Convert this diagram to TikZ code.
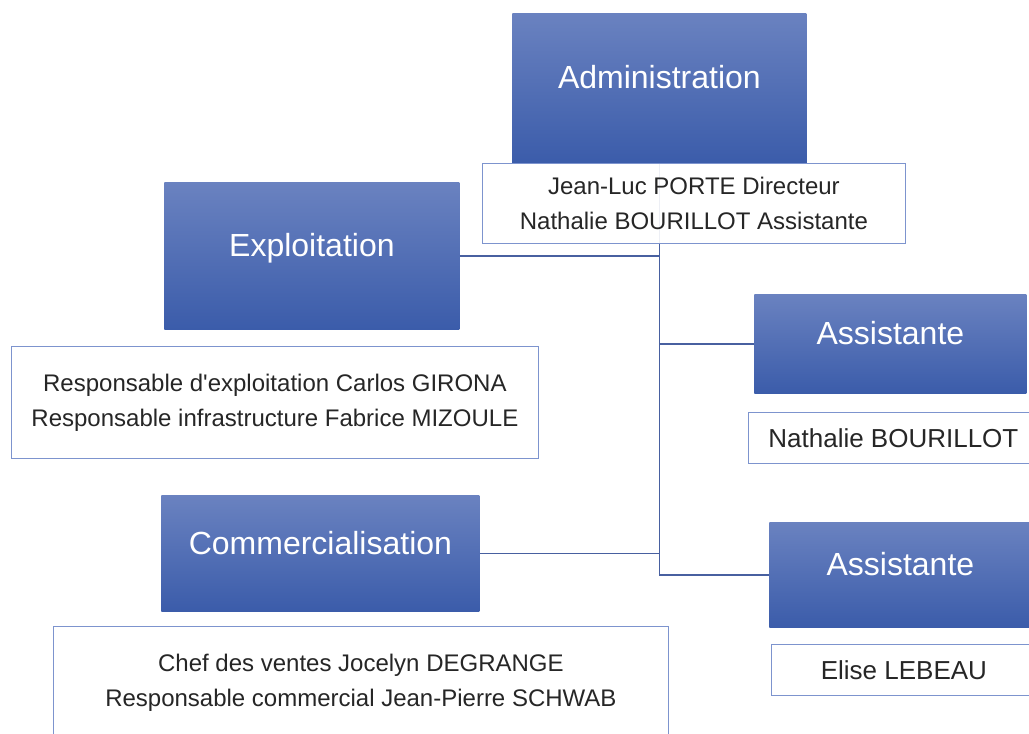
\documentclass[tikz,border=0pt]{standalone}
\usepackage{fontspec}
\setmainfont{Liberation Sans}
\usepackage{xcolor}
\usetikzlibrary{positioning}
\definecolor{unitTop}{RGB}{106,130,192}
\definecolor{unitBot}{RGB}{59,92,170}
\definecolor{cardLine}{RGB}{125,148,206}
\definecolor{linkCol}{RGB}{72,96,160}
\tikzset{
  unit/.style  = {rectangle, top color=unitTop, bottom color=unitBot, draw=none,
                  text=white, font=\fontsize{16}{19}\selectfont, text depth=11pt,
                  anchor=north west, inner sep=0pt},
  card/.style  = {rectangle, draw=cardLine, line width=0.6pt, fill=white, fill opacity=0.9,
                  text opacity=1, text=black!85, align=center,
                  font=\fontsize{12}{17.5}\selectfont, inner sep=0pt},
  cardb/.style = {card, font=\fontsize{13}{16}\selectfont},
  link/.style  = {draw=linkCol, line width=0.8pt},
}

\begin{document}
\begin{tikzpicture}[x=0.5pt, y=-0.5pt]

  \useasboundingbox (0,0) rectangle (1029,734);

  \node[unit, minimum width=147pt, minimum height=75pt] (adm) at (512,13) {Administration};
  \node[unit, minimum width=147.5pt, minimum height=73.5pt] (exp) at (164,182) {Exploitation};
  \node[unit, minimum width=159pt, minimum height=58pt] (com) at (161,495) {Commercialisation};
  \node[unit, minimum width=136pt, minimum height=49.5pt] (as1) at (754,294) {Assistante};
  \node[unit, minimum width=131pt, minimum height=52.5pt] (as2) at (769,522) {Assistante};

  \draw[link] (adm.south) |- (as2.west);
  \draw[link] (exp.east) -- (exp.east -| adm.south);
  \draw[link] (com.east) -- (com.east -| adm.south);
  \draw[link] (as1.west) -- (as1.west -| adm.south);

  \node[card, below=-0.5pt of adm, xshift=17.25pt, minimum width=211.5pt, minimum height=40pt] (admw)
    {Jean-Luc PORTE Directeur\\ Nathalie BOURILLOT Assistante};
  \node[card, below=8pt of exp, xshift=-18.5pt, minimum width=263.5pt, minimum height=56pt] (expw)
    {Responsable d\textquotesingle exploitation Carlos GIRONA\\ Responsable infrastructure Fabrice MIZOULE};
  \node[card, below=7pt of com, xshift=20.25pt, minimum width=307.5pt, minimum height=56pt] (comw)
    {Chef des ventes Jocelyn DEGRANGE\\ Responsable commercial Jean-Pierre SCHWAB};
  \node[cardb, below=9pt of as1, xshift=1.5pt, minimum width=145pt, minimum height=25.5pt] (as1w)
    {Nathalie BOURILLOT};
  \node[cardb, below=8pt of as2, xshift=1.75pt, minimum width=132.5pt, minimum height=25.5pt] (as2w)
    {Elise LEBEAU};

\end{tikzpicture}
\end{document}
